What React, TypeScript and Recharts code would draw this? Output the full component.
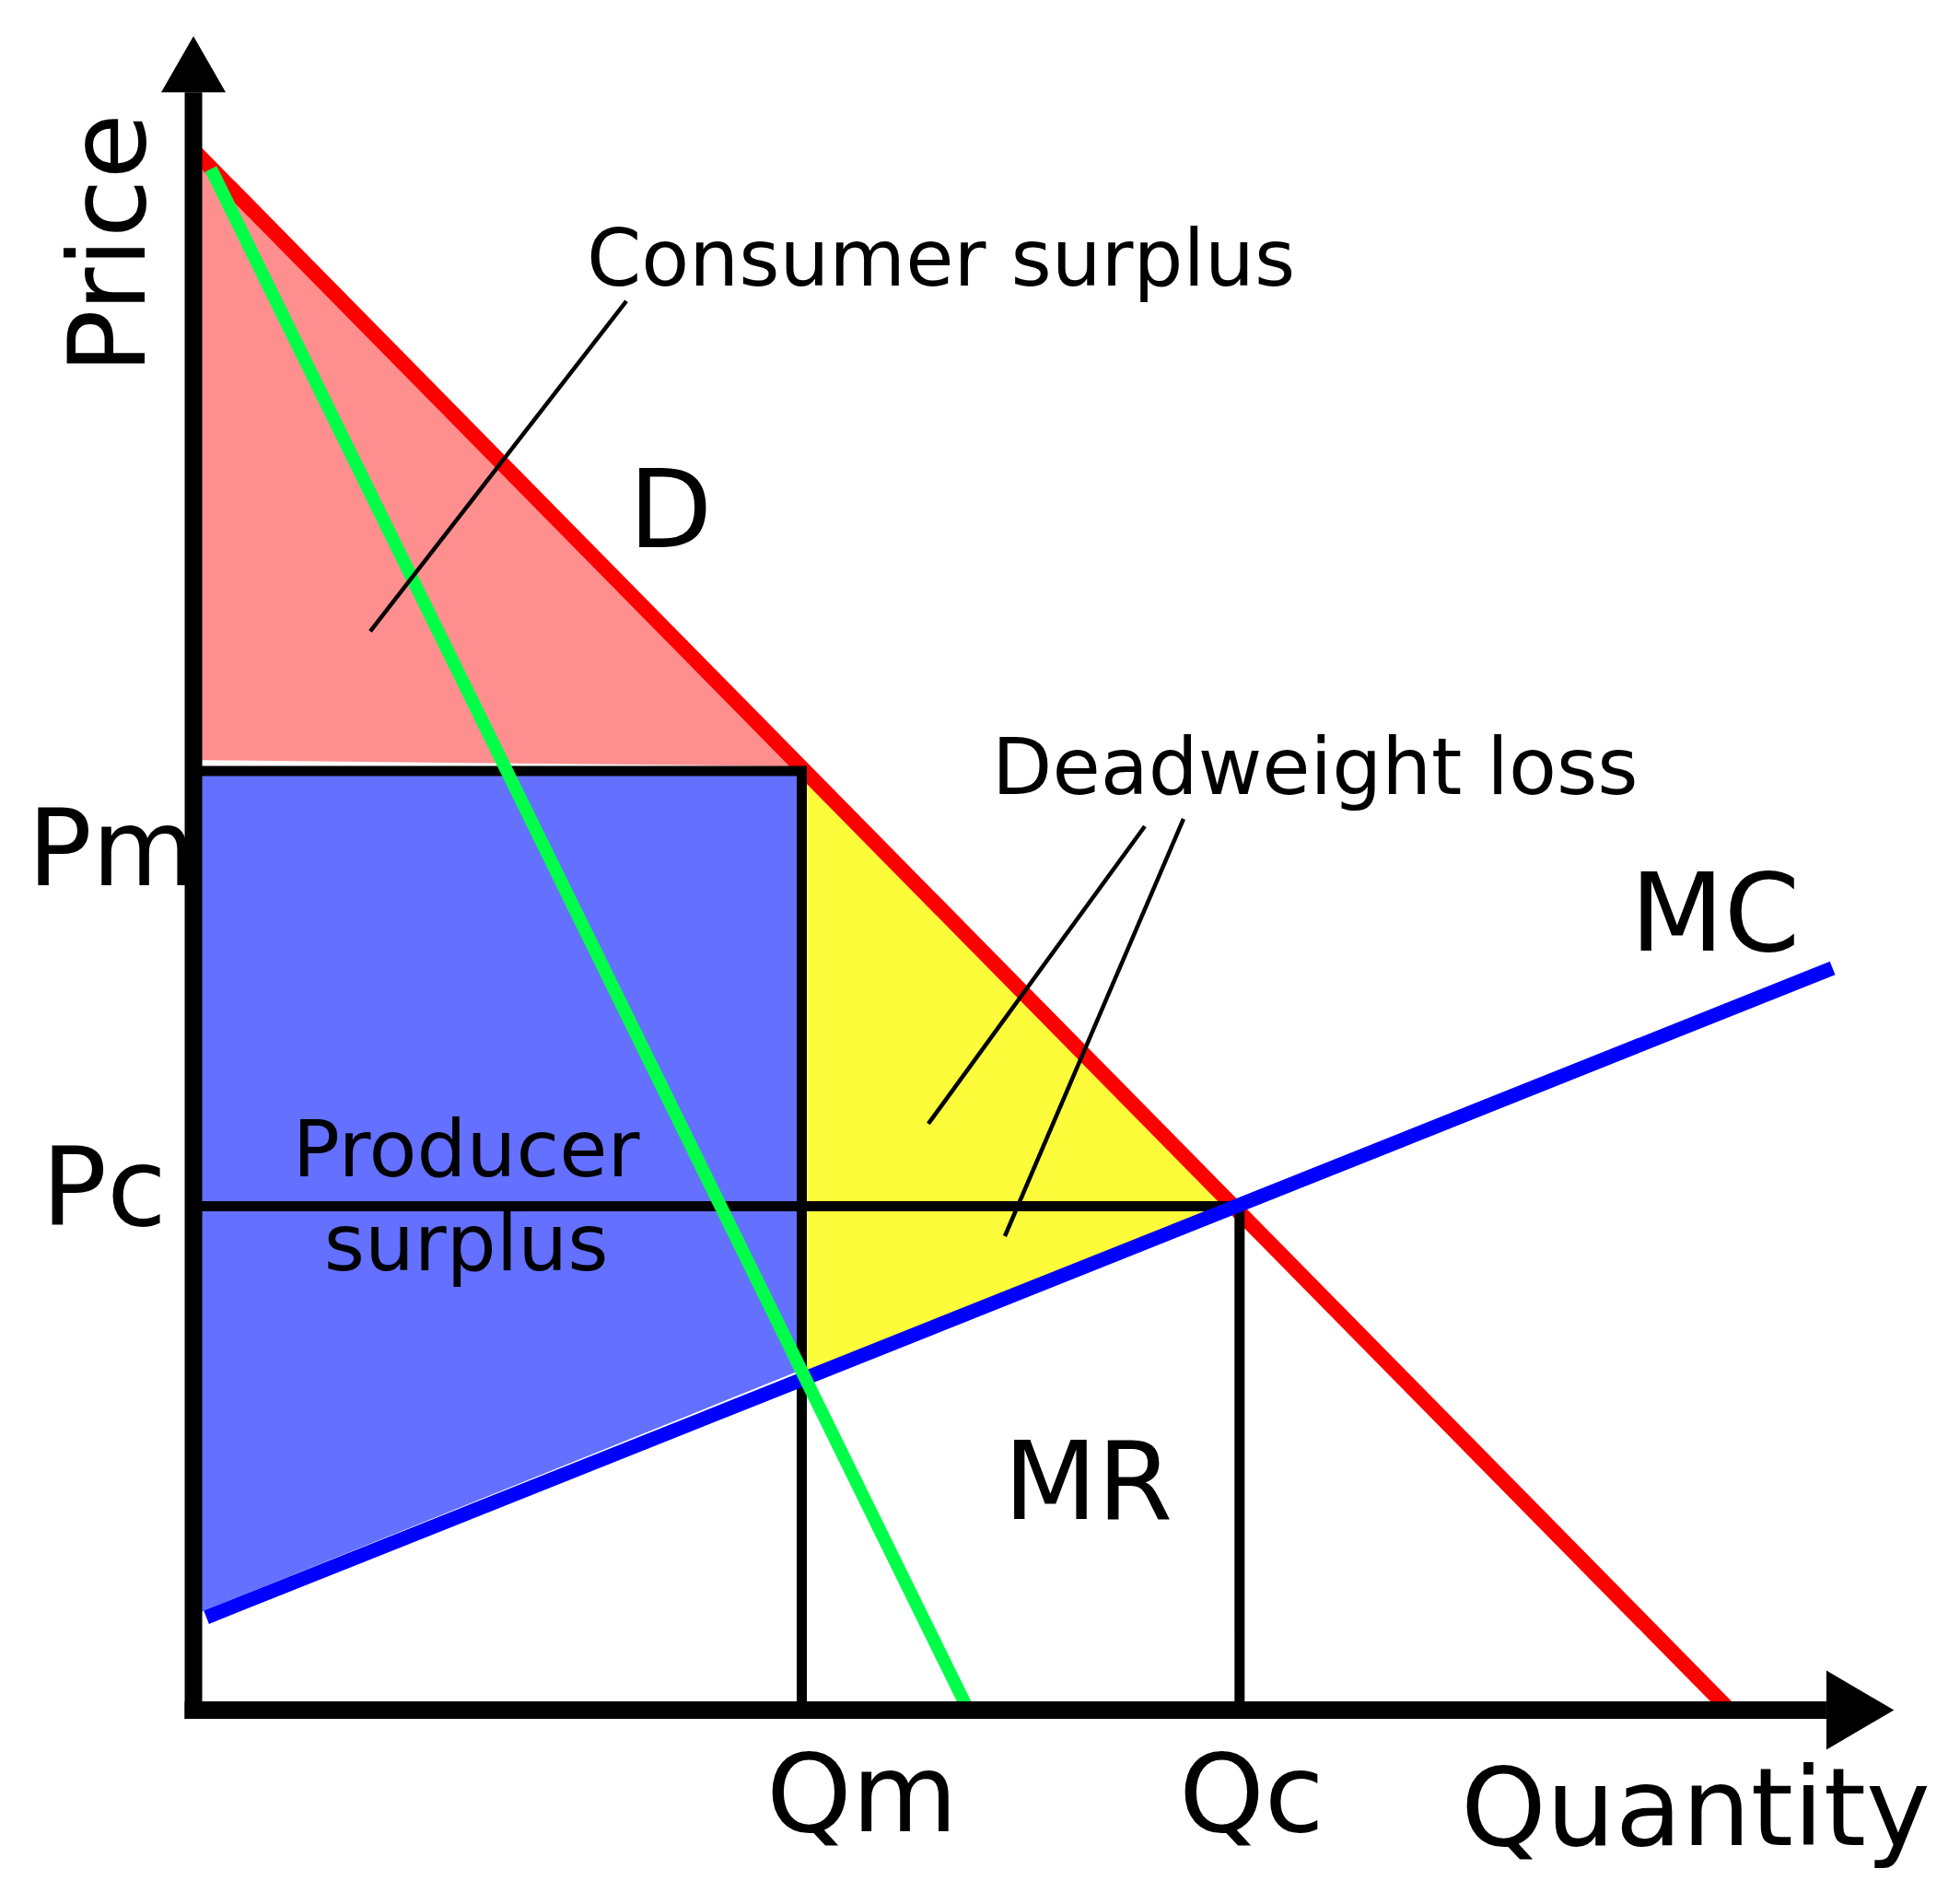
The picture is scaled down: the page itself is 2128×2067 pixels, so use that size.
import { ComposedChart, Area, Line, XAxis, YAxis, ReferenceDot } from 'recharts';

// Curves in (quantity q, price p) units
const demand = [
  { q: 0, p: 100 },
  { q: 100, p: 0 },
];
const marginalRevenue = [
  { q: 1.14, p: 98.8 },
  { q: 50.44, p: 0 },
];
const marginalCost = [
  { q: 0.84, p: 5.95 },
  { q: 106.7, p: 47.56 },
];

// Monopoly and competitive outcomes
const Qm = 39.6;
const Pm = 60.2;
const Qc = 68.1;
const Pc = 32.3;

const monopolyGuide = [
  { q: 0, p: Pm },
  { q: Qm, p: Pm },
  { q: Qm, p: 0 },
];
const competitiveGuide = [
  { q: 0, p: Pc },
  { q: Qc, p: Pc },
  { q: Qc, p: 0 },
];

// Shaded regions, each point holds a [low, high] price range
const consumerSurplus = [
  { q: 0, v: [60.9, 100] },
  { q: 39.6, v: [60.5, 60.5] },
];
const producerSurplus = [
  { q: 0, v: [6.1, 60.2] },
  { q: 39.3, v: [21.7, 60.2] },
];
const deadweightLoss = [
  { q: 39.95, v: [21.8, 60.05] },
  { q: 67.9, v: [32.2, 32.2] },
];

// Axis shafts and arrowheads
const priceAxis = [
  { q: 0, p: -0.56 },
  { q: 0, p: 103.7 },
];
const quantityAxis = [
  { q: -0.57, p: 0 },
  { q: 106.3, p: 0 },
];
const priceArrow = [
  { q: -2.1, v: [103.7, 103.7] },
  { q: 0, v: [103.7, 107.3] },
  { q: 2.1, v: [103.7, 103.7] },
];
const quantityArrow = [
  { q: 106.3, v: [-2.54, 2.54] },
  { q: 110.7, v: [0, 0] },
];

// Pointer lines from the annotations
const leaders = [
  [
    { q: 28.18, p: 90.32 },
    { q: 11.51, p: 69.15 },
  ],
  [
    { q: 61.93, p: 56.66 },
    { q: 47.84, p: 37.59 },
  ],
  [
    { q: 64.45, p: 57.13 },
    { q: 52.82, p: 30.38 },
  ],
];

type Note = {
  text: string;
  q: number;
  p: number;
  size: number;
  anchor?: 'start' | 'middle';
  rotate?: boolean;
};

const notes: Note[] = [
  { text: 'Price', q: -3.18, p: 94.0, size: 116, anchor: 'middle', rotate: true },
  { text: 'Quantity', q: 82.5, p: -8.65, size: 118 },
  { text: 'Consumer surplus', q: 25.6, p: 91.34, size: 85 },
  { text: 'D', q: 28.33, p: 74.55, size: 118 },
  { text: 'Deadweight loss', q: 51.98, p: 58.73, size: 85 },
  { text: 'MC', q: 93.53, p: 48.7, size: 118 },
  { text: 'MR', q: 52.73, p: 12.25, size: 118 },
  { text: 'Pm', q: -10.8, p: 52.9, size: 116 },
  { text: 'Pc', q: -9.9, p: 31.09, size: 118 },
  { text: 'Qm', q: 37.29, p: -7.76, size: 118 },
  { text: 'Qc', q: 64.15, p: -7.76, size: 118 },
  { text: 'Producer', q: 17.75, p: 34.22, size: 85, anchor: 'middle' },
  { text: 'surplus', q: 17.75, p: 28.2, size: 85, anchor: 'middle' },
];

const FONT = '"DejaVu Sans", Verdana, sans-serif';

function NoteText({ cx, cy, note }: { cx: number; cy: number; note: Note }) {
  return (
    <text
      x={cx}
      y={cy}
      fontFamily={FONT}
      fontSize={note.size}
      textAnchor={note.anchor ?? 'start'}
      fill="#000"
      transform={note.rotate ? `rotate(-90 ${cx} ${cy})` : undefined}
    >
      {note.text}
    </text>
  );
}

export default function App() {
  return (
    <div style={{ position: 'absolute', left: 0, top: 0, width: 2128, height: 2067, background: '#fff' }}>
      <ComposedChart width={2128} height={2067} margin={{ top: 27.5, right: 50, bottom: 159.7, left: 160 }}>
        <XAxis dataKey="q" type="number" domain={[-3, 112]} allowDataOverflow hide />
        <YAxis type="number" domain={[-3, 108]} allowDataOverflow hide />

        {/* surplus areas */}
        <Area data={consumerSurplus} dataKey="v" type="linear" fill="#ff8e8e" fillOpacity={1} stroke="none" isAnimationActive={false} />
        <Area data={producerSurplus} dataKey="v" type="linear" fill="#6470ff" fillOpacity={1} stroke="none" isAnimationActive={false} />
        <Area data={deadweightLoss} dataKey="v" type="linear" fill="#fcfc3a" fillOpacity={1} stroke="none" isAnimationActive={false} />

        {/* demand */}
        <Line data={demand} dataKey="p" stroke="#ff0000" strokeWidth={16.5} dot={false} activeDot={false} isAnimationActive={false} />

        {/* price / quantity guides */}
        <Line data={monopolyGuide} dataKey="p" stroke="#000" strokeWidth={11} dot={false} activeDot={false} isAnimationActive={false} />
        <Line data={competitiveGuide} dataKey="p" stroke="#000" strokeWidth={11} dot={false} activeDot={false} isAnimationActive={false} />

        {/* marginal cost and marginal revenue */}
        <Line data={marginalCost} dataKey="p" stroke="#0000ff" strokeWidth={15.5} dot={false} activeDot={false} isAnimationActive={false} />
        <Line data={marginalRevenue} dataKey="p" stroke="#00ff48" strokeWidth={14} dot={false} activeDot={false} isAnimationActive={false} />

        {/* axes with arrowheads */}
        <Line data={priceAxis} dataKey="p" stroke="#000" strokeWidth={19} dot={false} activeDot={false} isAnimationActive={false} />
        <Line data={quantityAxis} dataKey="p" stroke="#000" strokeWidth={19} dot={false} activeDot={false} isAnimationActive={false} />
        <Area data={priceArrow} dataKey="v" type="linear" fill="#000" fillOpacity={1} stroke="none" isAnimationActive={false} />
        <Area data={quantityArrow} dataKey="v" type="linear" fill="#000" fillOpacity={1} stroke="none" isAnimationActive={false} />

        {leaders.map((seg, i) => (
          <Line key={`leader-${i}`} data={seg} dataKey="p" stroke="#000" strokeWidth={4.5} dot={false} activeDot={false} isAnimationActive={false} />
        ))}

        {notes.map((note) => (
          <ReferenceDot
            key={note.text}
            x={note.q}
            y={note.p}
            r={0}
            ifOverflow="visible"
            shape={(props: any) => <NoteText cx={props.cx} cy={props.cy} note={note} />}
          />
        ))}
      </ComposedChart>
    </div>
  );
}
